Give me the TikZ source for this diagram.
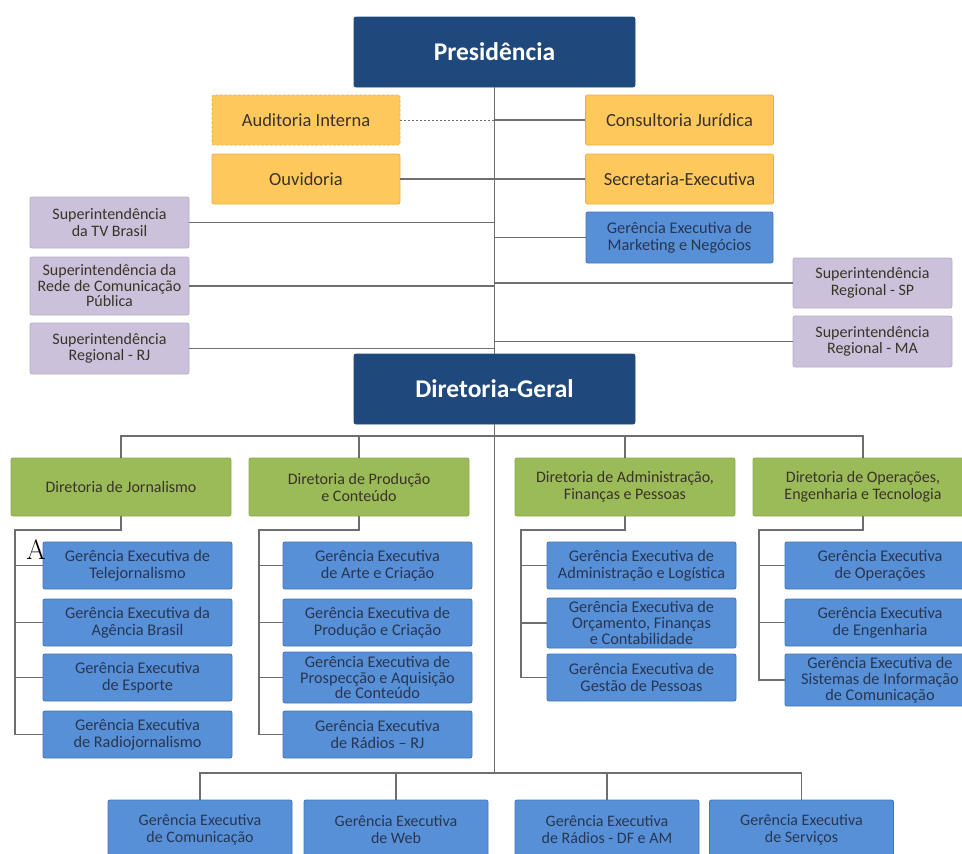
\documentclass[tikz,border=0pt]{standalone}
\usepackage{fontspec}
\setmainfont{Carlito}
\newfontfamily\lmfont{Latin Modern Roman}
\usetikzlibrary{positioning,calc}
\definecolor{navy}{HTML}{1F497D}
\definecolor{gold}{HTML}{FFC85C}
\definecolor{goldline}{HTML}{E9AE45}
\definecolor{lilac}{HTML}{CCC1DA}
\definecolor{lilacline}{HTML}{B9AECB}
\definecolor{leaf}{HTML}{9BBB59}
\definecolor{leafline}{HTML}{8AAB4A}
\definecolor{sky}{HTML}{5890D8}
\definecolor{skyline}{HTML}{3F74BE}
\definecolor{ink}{HTML}{3A3328}
\definecolor{skyink}{HTML}{273652}
\definecolor{wiregray}{HTML}{6E6E6E}
\tikzset{
  box/.style={draw, rectangle, rounded corners=2pt, align=center, inner sep=2pt, text=ink, line width=0.8pt},
  topbox/.style={box, fill=navy, draw=navy, text=white, minimum width=281pt, minimum height=70pt, font=\fontsize{25.5}{28}\selectfont\bfseries},
  staffbox/.style={box, fill=gold, draw=goldline, minimum width=188pt, minimum height=50pt, font=\fontsize{18.5}{20}\selectfont},
  suptbox/.style={box, fill=lilac, draw=lilacline, minimum width=159pt, minimum height=51pt, font=\fontsize{16}{16.5}\selectfont},
  dirbox/.style={box, fill=leaf, draw=leafline, minimum width=220pt, minimum height=58pt, font=\fontsize{16}{17}\selectfont},
  gerbox/.style={box, fill=sky, draw=skyline, text=skyink, minimum width=189pt, minimum height=47pt, font=\fontsize{16.3}{17}\selectfont},
  threeline/.style={font=\fontsize{16.3}{15.8}\selectfont},
  basebox/.style={gerbox, minimum width=184pt, minimum height=60pt, font=\fontsize{16}{17}\selectfont},
  link/.style={draw=wiregray, line width=1.3pt},
  dotlink/.style={draw=wiregray, line width=0.9pt, dash pattern=on 1.5pt off 2.5pt}
}
\begin{document}
\begin{tikzpicture}[x=1pt, y=-1pt]
\clip (0,0) rectangle (962,854);
% presidency and staff
\node[topbox] (pres) at (494.5,52) {Presidência};
\node[staffbox, dash pattern=on 2.5pt off 2pt] (aud) at (306,120) {Auditoria Interna};
\node[staffbox] (cons) at (679.5,120) {Consultoria Jurídica};
\node[staffbox] (ouv) at (306,179) {Ouvidoria};
\node[staffbox] (sec) at (679.5,179) {Secretaria-Executiva};
\node[gerbox, minimum width=187pt, minimum height=51pt] (mkt) at (679.5,237.5) {Gerência Executiva de\\Marketing e Negócios};
% superintendencies
\node[suptbox] (tvb) at (109.5,222.5) {Superintendência\\da TV Brasil};
\node[suptbox, minimum height=58pt, font=\fontsize{16}{15.5}\selectfont] (rede) at (109.5,286) {Superintendência da\\Rede de Comunicação\\Pública};
\node[suptbox] (rj) at (109.5,348.5) {Superintendência\\Regional - RJ};
\node[suptbox, minimum height=50pt] (sp) at (872.5,283) {Superintendência\\Regional - SP};
\node[suptbox] (ma) at (872.5,341.5) {Superintendência\\Regional - MA};
\node[topbox] (dg) at (494.5,389) {Diretoria-Geral};
% directorates
\node[dirbox] (dj) at (121,487) {Diretoria de Jornalismo};
\node[dirbox] (dp) at (359,487) {Diretoria de Produção\\e Conteúdo};
\node[dirbox] (da) at (625,487) {Diretoria de Administração,\\Finanças e Pessoas};
\node[dirbox] (do) at (863,487) {Diretoria de Operações,\\Engenharia e Tecnologia};
% managements
\node[gerbox] (j1) at (137.5,565.5) {Gerência Executiva de\\Telejornalismo};
\node[gerbox] (j2) at (137.5,622.5) {Gerência Executiva da\\Agência Brasil};
\node[gerbox] (j3) at (137.5,677.5) {Gerência Executiva\\de Esporte};
\node[gerbox] (j4) at (137.5,734.5) {Gerência Executiva\\de Radiojornalismo};
\node[gerbox] (p1) at (377.5,565.5) {Gerência Executiva\\de Arte e Criação};
\node[gerbox] (p2) at (377.5,622.5) {Gerência Executiva de\\Produção e Criação};
\node[gerbox, threeline, minimum height=51pt] (p3) at (377.5,677.5) {Gerência Executiva de\\Prospecção e Aquisição\\de Conteúdo};
\node[gerbox] (p4) at (377.5,734.5) {Gerência Executiva\\de Rádios -- RJ};
\node[gerbox] (a1) at (641.5,565.5) {Gerência Executiva de\\Administração e Logística};
\node[gerbox, threeline, minimum height=50pt] (a2) at (641.5,623) {Gerência Executiva de\\Orçamento, Finanças\\e Contabilidade};
\node[gerbox] (a3) at (641.5,677.5) {Gerência Executiva de\\Gestão de Pessoas};
\node[gerbox, minimum width=190pt] (o1) at (880,565.5) {Gerência Executiva\\de Operações};
\node[gerbox, minimum width=190pt] (o2) at (880,622.5) {Gerência Executiva\\de Engenharia};
\node[gerbox, threeline, minimum width=190pt, minimum height=52pt] (o3) at (880,680) {Gerência Executiva de\\Sistemas de Informação\\de Comunicação};
\node[basebox] (b1) at (200,830) {Gerência Executiva\\de Comunicação};
\node[basebox] (b2) at (396,830) {Gerência Executiva\\de Web};
\node[basebox] (b3) at (607,830) {Gerência Executiva\\de Rádios - DF e AM};
\node[basebox] (b4) at (801.5,830) {Gerência Executiva\\de Serviços};
\node[font=\lmfont\fontsize{28}{30}\selectfont, text=black, inner sep=0pt] (stray) at (36,550) {A};
% trunk
\draw[link] (pres.south) -- (dg.north);
\coordinate (dbus) at (0,436);
\coordinate (bbus) at (0,773);
\draw[link] (dg.south) -- (dg.south |- bbus);
\draw[dotlink] (aud.east) -- (aud.east -| pres.south);
\foreach \n in {ouv,tvb,rede,rj} \draw[link] (\n.east) -- (\n.east -| pres.south);
\foreach \n in {cons,sec,mkt,sp,ma} \draw[link] (\n.west) -- (\n.west -| pres.south);
% directorate bus
\draw[link] (dj.north) |- (do.north |- dbus) -- (do.north);
\foreach \n in {dp,da} \draw[link] (\n.north) -- (\n.north |- dbus);
% sub trees
\coordinate (jbus) at (15,530);
\coordinate (pbus) at (259,530);
\coordinate (abus) at (521,530);
\coordinate (obus) at (759,530);
\draw[link] (dj.south) |- (jbus) |- (j4.west);
\draw[link] (dp.south) |- (pbus) |- (p4.west);
\draw[link] (da.south) |- (abus) |- (a3.west);
\draw[link] (do.south) |- (obus) |- (o3.west);
\foreach \n in {j1,j2,j3} \draw[link] (jbus |- \n.west) -- (\n.west);
\foreach \n in {p1,p2,p3} \draw[link] (pbus |- \n.west) -- (\n.west);
\foreach \n in {a1,a2} \draw[link] (abus |- \n.west) -- (\n.west);
\foreach \n in {o1,o2} \draw[link] (obus |- \n.west) -- (\n.west);
% bottom row
\draw[link] (b1.north) |- (b4.north |- bbus) -- (b4.north);
\foreach \n in {b2,b3} \draw[link] (\n.north) -- (\n.north |- bbus);
\end{tikzpicture}
\end{document}
